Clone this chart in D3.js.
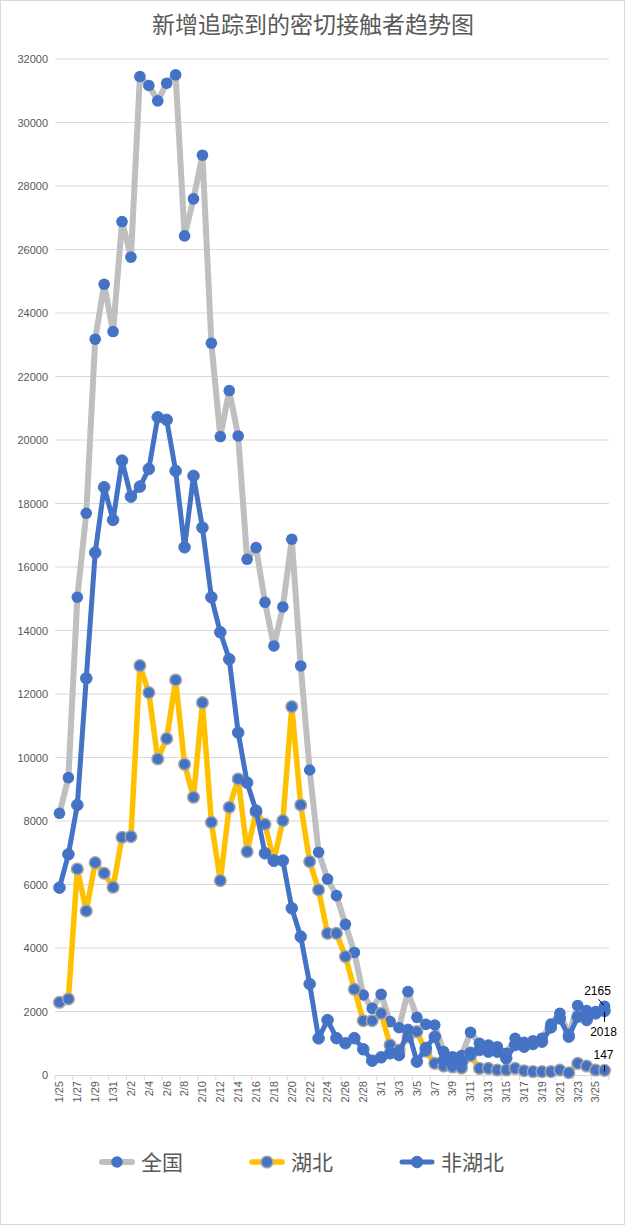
<!DOCTYPE html>
<html><head><meta charset="utf-8">
<script src="https://cdn.jsdelivr.net/npm/d3@7"></script>
<style>body{margin:0;background:#fff}</style>
</head><body><svg id="c" width="625" height="1225"></svg>
<script>
const dates = ["1/25","1/26","1/27","1/28","1/29","1/30","1/31","2/1","2/2","2/3","2/4","2/5","2/6","2/7","2/8","2/9","2/10","2/11","2/12","2/13","2/14","2/15","2/16","2/17","2/18","2/19","2/20","2/21","2/22","2/23","2/24","2/25","2/26","2/27","2/28","2/29","3/1","3/2","3/3","3/4","3/5","3/6","3/7","3/8","3/9","3/10","3/11","3/12","3/13","3/14","3/15","3/16","3/17","3/18","3/19","3/20","3/21","3/22","3/23","3/24","3/25","3/26"];
const national = [8243,9365,15047,17693,23175,24905,23415,26880,25757,31447,31165,30681,31238,31500,26428,27594,28970,23048,20108,21557,20128,16243,16611,14889,13513,14742,16874,12883,9607,7015,6170,5650,4745,3860,2520,2100,2540,1680,1490,2625,1816,1596,1575,735,577,610,1344,997,945,892,682,1155,1028,1081,1155,1605,1942,1280,2190,2030,2000,2165];
const hubei = [2290,2394,6489,5166,6688,6353,5912,7487,7507,12894,12044,9954,10594,12442,9786,8747,11727,7959,6121,8432,9324,7035,8285,7896,6762,8012,11601,8505,6720,5830,4460,4460,3730,2700,1710,1710,1940,945,787,1200,1365,750,367,283,252,220,600,210,210,157,157,210,136,105,105,105,157,73,367,283,157,147];
const nonHubei = [5900,6952,8505,12495,16454,18512,17482,19352,18218,18533,19089,20717,20633,19026,16622,18869,17241,15047,13944,13094,10784,9208,8326,6983,6751,6751,5250,4357,2866,1155,1730,1160,1000,1160,810,450,557,683,630,1420,420,850,1207,452,325,390,700,787,735,735,525,945,892,976,1050,1500,1785,1207,1837,1732,1942,2018];
const yTicks = d3.range(0, 32001, 2000);
const seriesNames = ["全国","湖北","非湖北"];
const endLabels = [2165, 147, 2018];

const svg = d3.select("#c");
const W = 625, H = 1225;
const pLeft = 55, pRight = 609, pTop = 59, pBottom = 1075;

svg.append("rect").attr("x",0.5).attr("y",0.5).attr("width",W-1).attr("height",H-1)
  .attr("fill","#fff").attr("stroke","#d9d9d9");

const x = d3.scaleBand().domain(dates).range([pLeft, pRight]);
const bw = x.bandwidth();
const cx = d => x(d) + bw/2;
const y = d3.scaleLinear().domain([0, 32000]).range([pBottom, pTop]);

// gridlines
svg.append("g").selectAll("line").data(yTicks.filter(t=>t>0)).join("line")
  .attr("x1", pLeft).attr("x2", pRight)
  .attr("y1", d=>y(d)).attr("y2", d=>y(d))
  .attr("stroke","#d9d9d9").attr("stroke-width",1);

// y axis labels
const yAxis = d3.axisLeft(y).tickValues(yTicks).tickSize(0).tickPadding(7).tickFormat(d3.format("d"));
const gy = svg.append("g").attr("transform",`translate(${pLeft},0)`).call(yAxis);
gy.select(".domain").remove();
gy.selectAll("text").attr("fill","#595959").style("font-family","'Liberation Sans', Arial, sans-serif").style("font-size","11px");

// x axis
const xAxis = d3.axisBottom(x).tickValues(dates.filter((d,i)=>i%2===0)).tickSize(0).tickPadding(6);
const gx = svg.append("g").attr("transform",`translate(0,${pBottom})`).call(xAxis);
gx.select(".domain").attr("stroke","#d9d9d9");
gx.selectAll("text").attr("fill","#595959")
  .style("font-family","'Liberation Sans', Arial, sans-serif").style("font-size","11px")
  .attr("text-anchor","end").attr("transform","rotate(-90)").attr("x",-6).attr("y",0).attr("dy","0.35em");
// tick marks at category boundaries every 2
svg.append("g").selectAll("line").data(dates.filter((d,i)=>i%2===0).concat(["_end"])).join("line")
  .attr("x1", (d)=> d==="_end" ? pRight : x(d)).attr("x2",(d)=> d==="_end" ? pRight : x(d))
  .attr("y1", pBottom).attr("y2", pBottom+5).attr("stroke","#d9d9d9");

const series = [
  {name: seriesNames[0], values: national, color:"#bfbfbf", width:6, mstroke:"#4472c4", msw:0},
  {name: seriesNames[1], values: hubei, color:"#ffc000", width:5.5, mstroke:"#a5a5a5", msw:1.5},
  {name: seriesNames[2], values: nonHubei, color:"#4472c4", width:5, mstroke:"#4a78c8", msw:1}
];
const line = d3.line().x((d,i)=>cx(dates[i])).y(d=>y(d));

series.forEach(s=>{
  const g = svg.append("g");
  g.append("path").datum(s.values).attr("d", line).attr("fill","none")
    .attr("stroke", s.color).attr("stroke-width", s.width)
    .attr("stroke-linejoin","round").attr("stroke-linecap","round");
  g.selectAll("circle").data(s.values).join("circle")
    .attr("cx",(d,i)=>cx(dates[i])).attr("cy",d=>y(d)).attr("r",5.8)
    .attr("fill","#4472c4").attr("stroke",s.mstroke).attr("stroke-width",s.msw);
});

// end data labels
const lastD = dates[dates.length-1];
const lx = cx(lastD);
const lab = svg.append("g").style("font-family","'Liberation Sans', Arial, sans-serif").style("font-size","12px").attr("fill","#000");
lab.append("text").attr("x", lx-7).attr("y", y(endLabels[0])-11).attr("text-anchor","middle").text(endLabels[0]);
lab.append("line").attr("x1",lx-6).attr("y1",y(endLabels[0])-7).attr("x2",lx-1).attr("y2",y(endLabels[0])-1).attr("stroke","#000").attr("stroke-width",1);
lab.append("text").attr("x", lx-1).attr("y", y(endLabels[2])+25).attr("text-anchor","middle").text(endLabels[2]);
lab.append("line").attr("x1",lx).attr("y1",y(endLabels[2])+1).attr("x2",lx).attr("y2",y(endLabels[2])+11).attr("stroke","#000").attr("stroke-width",1);
lab.append("text").attr("x", lx-1).attr("y", y(endLabels[1])-11).attr("text-anchor","middle").text(endLabels[1]);
lab.append("line").attr("x1",lx).attr("y1",y(endLabels[1])-5).attr("x2",lx).attr("y2",y(endLabels[1])+1).attr("stroke","#000").attr("stroke-width",1);

// title
svg.append("text").attr("x", 313).attr("y", 33).attr("text-anchor","middle")
  .style("font-family","'Noto Sans CJK SC', sans-serif").style("font-size","23px")
  .attr("fill","#595959").text("新增追踪到的密切接触者趋势图");

// legend
const legX = [102, 252, 402];
const legY = 1162;
series.forEach((s,i)=>{
  const g = svg.append("g").attr("transform",`translate(${legX[i]},${legY})`);
  g.append("line").attr("x1",0).attr("x2",30).attr("y1",0).attr("y2",0)
    .attr("stroke",s.color).attr("stroke-width",s.width).attr("stroke-linecap","round");
  g.append("circle").attr("cx",15).attr("cy",0).attr("r",5.8)
    .attr("fill","#4472c4").attr("stroke",s.mstroke).attr("stroke-width",s.msw);
  g.append("text").attr("x",39).attr("y",0).attr("dy","0.36em")
    .style("font-family","'Noto Sans CJK SC', sans-serif").style("font-size","21px")
    .attr("fill","#595959").text(s.name);
});
</script></body></html>
